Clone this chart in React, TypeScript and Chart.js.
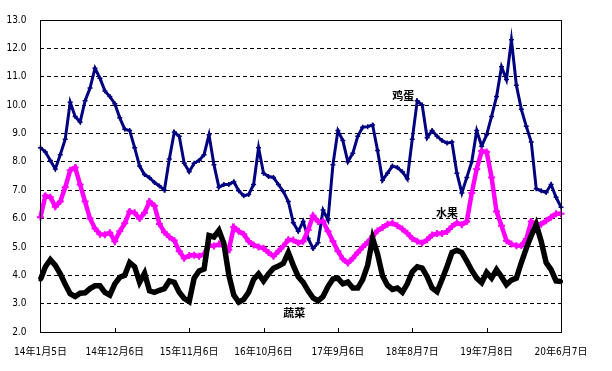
import { useEffect, useRef } from 'react';
import { Chart, registerables } from 'chart.js';

Chart.register(...registerables);

const tickLabels = ['14年1月5日', '14年12月6日', '15年11月6日', '16年10月6日', '17年9月6日', '18年8月7日', '19年7月8日', '20年6月7日'];
const POINTS_PER_LABEL = 15;

const egg = [
  8.5, 8.35, 8.05, 7.75, 8.25, 8.8, 10.1, 9.6, 9.4, 10.15,
  10.6, 11.3, 10.95, 10.5, 10.3, 10.05, 9.55, 9.15, 9.1, 8.5,
  7.85, 7.55, 7.44, 7.27, 7.15, 7.0, 8.1, 9.05, 8.9, 7.95,
  7.65, 7.95, 8.05, 8.25, 8.95, 7.9, 7.1, 7.2, 7.2, 7.3,
  6.98, 6.8, 6.85, 7.2, 8.5, 7.6, 7.48, 7.45, 7.2, 6.95,
  6.6, 5.85, 5.55, 5.9, 5.3, 4.94, 5.15, 6.3, 5.95, 7.9,
  9.1, 8.75, 8.0, 8.3, 8.9, 9.22, 9.24, 9.3, 8.4, 7.35,
  7.6, 7.85, 7.8, 7.65, 7.4, 8.8, 10.15, 10.0, 8.85, 9.1,
  8.9, 8.75, 8.66, 8.7, 7.6, 6.9, 7.45, 8.0, 9.1, 8.55,
  8.95, 9.6, 10.3, 11.35, 10.9, 12.3, 10.7, 9.85, 9.25, 8.7,
  7.05, 6.98, 6.92, 7.2, 6.75, 6.4,
];

const fruit = [
  6.05, 6.8, 6.75, 6.42, 6.6, 7.1, 7.7, 7.8, 7.2, 6.6,
  6.0, 5.65, 5.45, 5.43, 5.5, 5.2, 5.55, 5.83, 6.25, 6.2,
  6.0, 6.2, 6.6, 6.45, 5.81, 5.52, 5.35, 5.23, 4.85, 4.6,
  4.7, 4.71, 4.67, 4.75, 5.05, 5.03, 5.1, 5.03, 4.9, 5.7,
  5.55, 5.45, 5.2, 5.07, 5.0, 4.95, 4.8, 4.67, 4.85, 5.03,
  5.25, 5.24, 5.14, 5.2, 5.6, 6.1, 5.9, 5.9, 5.55, 5.2,
  4.85, 4.57, 4.43, 4.6, 4.8, 5.0, 5.16, 5.38, 5.57, 5.68,
  5.8, 5.84, 5.75, 5.63, 5.48, 5.3, 5.2, 5.14, 5.25, 5.42,
  5.47, 5.47, 5.54, 5.72, 5.85, 5.78, 5.9, 6.9, 7.75, 8.38,
  8.35, 7.45, 6.25, 5.75, 5.22, 5.1, 5.04, 5.05, 5.28, 5.9,
  5.8, 5.8, 5.92, 6.05, 6.17, 6.17,
];

const veg = [
  3.85, 4.3, 4.55, 4.35, 4.05, 3.68, 3.35, 3.25, 3.37, 3.38,
  3.53, 3.63, 3.63, 3.4, 3.3, 3.7, 3.93, 4.0, 4.45, 4.3,
  3.75, 4.07, 3.45, 3.4, 3.47, 3.53, 3.8, 3.75, 3.4, 3.18,
  3.07, 3.9, 4.15, 4.22, 5.4, 5.35, 5.58, 5.12, 4.0, 3.3,
  3.05, 3.15, 3.4, 3.85, 4.05, 3.8, 4.05, 4.25, 4.33, 4.42,
  4.8, 4.35, 3.95, 3.75, 3.45, 3.2, 3.1, 3.25, 3.6, 3.87,
  3.9, 3.7, 3.76, 3.55, 3.55, 3.85, 4.35, 5.3, 4.75, 3.98,
  3.65, 3.5, 3.55, 3.4, 3.7, 4.12, 4.3, 4.25, 3.95, 3.55,
  3.42, 3.85, 4.3, 4.8, 4.88, 4.8, 4.5, 4.17, 3.9, 3.74,
  4.1, 3.9, 4.2, 3.95, 3.67, 3.83, 3.9, 4.45, 4.95, 5.4,
  5.8, 5.2, 4.45, 4.2, 3.8, 3.78,
];

const seriesNames = ['鸡蛋', '水果', '蔬菜'];

const categories = egg.map((_, i) =>
  i % POINTS_PER_LABEL === 0 ? tickLabels[i / POINTS_PER_LABEL] : ''
);

const LABEL_FONT = "'Liberation Sans Narrow', 'DejaVu Sans Condensed', 'Liberation Sans', 'Noto Sans CJK SC', sans-serif";

const overlayPlugin = {
  id: 'overlay',
  afterDraw(chart: any) {
    const { ctx, chartArea } = chart;
    const xs = chart.scales.x;
    const ys = chart.scales.y;
    ctx.save();
    ctx.strokeStyle = '#000';
    ctx.lineWidth = 1;
    ctx.setLineDash([]);
    ctx.strokeRect(
      Math.round(chartArea.left) + 0.5,
      Math.round(chartArea.top) + 0.5,
      Math.round(chartArea.right - chartArea.left),
      Math.round(chartArea.bottom - chartArea.top)
    );
    categories.forEach((c, i) => {
      if (!c) return;
      const x = Math.round(xs.getPixelForValue(i)) + 0.5;
      ctx.beginPath();
      ctx.moveTo(x, chartArea.bottom);
      ctx.lineTo(x, chartArea.bottom - 4);
      ctx.stroke();
    });
    const notes = [
      { text: seriesNames[0], i: 73.2, v: 10.32 },
      { text: seriesNames[1], i: 82, v: 6.2 },
      { text: seriesNames[2], i: 51.2, v: 2.68 },
    ];
    ctx.fillStyle = '#000';
    ctx.font = "bold 11px 'Noto Sans CJK SC', sans-serif";
    ctx.textAlign = 'center';
    ctx.textBaseline = 'middle';
    notes.forEach((n) => {
      ctx.fillText(n.text, xs.getPixelForValue(n.i), ys.getPixelForValue(n.v));
    });
    ctx.restore();
  },
};

export default function App() {
  const ref = useRef<HTMLCanvasElement | null>(null);

  useEffect(() => {
    if (!ref.current) return;
    const chart = new Chart(ref.current, {
      type: 'line',
      data: {
        labels: categories,
        datasets: [
          {
            label: seriesNames[2],
            data: veg,
            borderColor: '#000000',
            backgroundColor: '#000000',
            borderWidth: 5.5,
            pointStyle: 'rect',
            pointRadius: 2,
            pointBorderWidth: 1,
            tension: 0,
          },
          {
            label: seriesNames[1],
            data: fruit,
            borderColor: '#FF00FF',
            backgroundColor: '#FF00FF',
            borderWidth: 4.5,
            pointStyle: 'cross',
            pointRadius: 3.5,
            pointBorderWidth: 2,
            tension: 0,
          },
          {
            label: seriesNames[0],
            data: egg,
            borderColor: '#000080',
            backgroundColor: '#000080',
            borderWidth: 3,
            pointStyle: 'cross',
            pointRadius: 2.5,
            pointBorderWidth: 1.5,
            tension: 0,
          },
        ],
      },
      options: {
        animation: false,
        responsive: false,
        devicePixelRatio: 1,
        layout: { padding: { top: 17, right: 51, left: 0, bottom: 0 } },
        plugins: {
          legend: { display: false },
          tooltip: { enabled: false },
        },
        scales: {
          x: {
            type: 'category',
            offset: false,
            grid: { display: false, drawTicks: false },
            border: { display: false },
            ticks: {
              autoSkip: false,
              maxRotation: 0,
              minRotation: 0,
              padding: 14,
              color: '#000',
              font: { family: LABEL_FONT, size: 10 },
              callback: (_v: any, i: number) => categories[i],
            },
            afterFit: (s: any) => {
              s.height = 39;
            },
          },
          y: {
            min: 2,
            max: 13,
            grid: { color: '#000', lineWidth: 1, drawTicks: false },
            border: { display: false, dash: [4, 3] },
            ticks: {
              stepSize: 1,
              padding: 14,
              color: '#000',
              font: { family: LABEL_FONT, size: 10 },
              callback: (v: any) => Number(v).toFixed(1),
            },
            afterFit: (s: any) => {
              s.width = 36;
            },
          },
        },
      },
      plugins: [overlayPlugin],
    });
    return () => chart.destroy();
  }, []);

  return (
    <div style={{ position: 'absolute', left: 0, top: 0, width: 612, height: 371, background: '#fff' }}>
      <canvas ref={ref} width={612} height={371} />
    </div>
  );
}
